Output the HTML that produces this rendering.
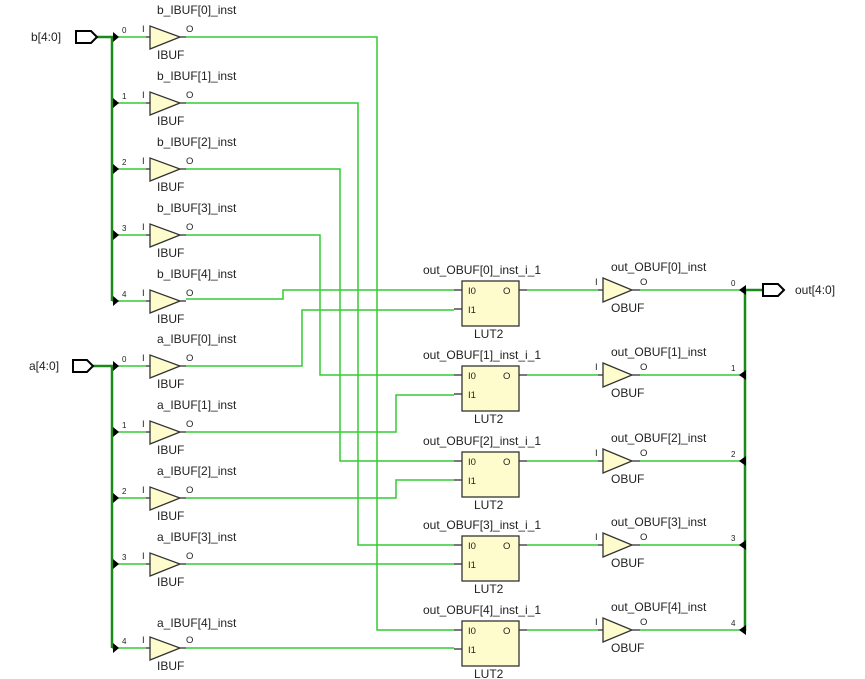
<!DOCTYPE html>
<html><head><meta charset="utf-8"><style>
html,body{margin:0;padding:0;background:#fff;}
svg{display:block;font-family:"Liberation Sans",Arial,sans-serif;}
.w{stroke:#33cc33;stroke-width:1.5;fill:none}
.bus{stroke:#1a8a1a;stroke-width:2.5;fill:none}
.buf{fill:#fefccc;stroke:#333;stroke-width:1.3}
.pin{stroke:#333;stroke-width:1.3}
.t{font-size:12px;fill:#222}
.s{font-size:8px;fill:#222}
.p{font-size:9.5px;fill:#222}
</style></head><body>
<svg width="865" height="679" viewBox="0 0 865 679">
<defs>
<g id="ib"><line class="pin" x1="146" y1="0" x2="150" y2="0"/><polygon class="buf" points="150,-11 150,12 180,0"/><line class="pin" x1="180" y1="0" x2="186" y2="0"/><text class="p" x="142" y="-5">I</text><text class="p" x="186" y="-5">O</text><text class="t" x="157" y="22">IBUF</text><polygon points="113,-5 119,0 113,5" fill="#000"/></g>
<g id="ob"><line class="pin" x1="598" y1="0" x2="603" y2="0"/><polygon class="buf" points="603,-12 603,12 632,0"/><line class="pin" x1="632" y1="0" x2="640" y2="0"/><text class="p" x="595" y="-5">I</text><text class="p" x="640" y="-5">O</text><text class="t" x="611" y="22">OBUF</text><polygon points="746,-5 739,0 746,5" fill="#000"/></g>
<g id="lut"><line class="pin" x1="454" y1="9" x2="462" y2="9"/><line class="pin" x1="454" y1="28" x2="462" y2="28"/><rect class="buf" x="462" y="0" width="57" height="45"/><line class="pin" x1="519" y1="9" x2="527" y2="9"/><text class="p" x="468" y="13">I0</text><text class="p" x="468" y="32">I1</text><text class="p" x="503" y="13">O</text><text class="t" x="474" y="57">LUT2</text></g>
</defs>

<polyline class="w" points="112,37 146,37"/><polyline class="w" points="112,103 146,103"/><polyline class="w" points="112,169 146,169"/><polyline class="w" points="112,235 146,235"/><polyline class="w" points="112,301 146,301"/>
<polyline class="w" points="112,366 146,366"/><polyline class="w" points="112,432 146,432"/><polyline class="w" points="112,498 146,498"/><polyline class="w" points="112,564 146,564"/><polyline class="w" points="112,648 146,648"/>

<polyline class="w" points="186,37 377,37 377,630 454,630"/>
<polyline class="w" points="186,103 358,103 358,545 454,545"/>
<polyline class="w" points="186,169 340,169 340,461 454,461"/>
<polyline class="w" points="186,235 320,235 320,375 454,375"/>
<polyline class="w" points="186,299 283,299 283,290 454,290"/>
<polyline class="w" points="186,366 302,366 302,310 454,310"/>
<polyline class="w" points="186,432 396,432 396,395 454,395"/>
<polyline class="w" points="186,498 396,498 396,480 454,480"/>
<polyline class="w" points="186,564 454,564"/>
<polyline class="w" points="186,648 454,648"/>

<polyline class="w" points="527,290 598,290"/><polyline class="w" points="527,375 598,375"/><polyline class="w" points="527,461 598,461"/><polyline class="w" points="527,545 598,545"/><polyline class="w" points="527,630 598,630"/>
<polyline class="w" points="640,290 745,290"/><polyline class="w" points="640,375 745,375"/><polyline class="w" points="640,461 745,461"/><polyline class="w" points="640,545 745,545"/><polyline class="w" points="640,630 745,630"/>

<polyline class="bus" points="97,37 112,37 112,301"/>
<polyline class="bus" points="93,366 112,366 112,648"/>
<polyline class="bus" points="745,631 745,290 762,290"/>

<polygon points="76,31 91,31 97,37 91,43 76,43" fill="#fff" stroke="#000" stroke-width="2"/>
<text class="t" x="31" y="41">b[4:0]</text>
<polygon points="73,360 87,360 93,366 87,372 73,372" fill="#fff" stroke="#000" stroke-width="2"/>
<text class="t" x="29" y="370">a[4:0]</text>
<polygon points="763,284 778,284 784,290 778,296 763,296" fill="#fff" stroke="#000" stroke-width="2"/>
<text class="t" x="795" y="294">out[4:0]</text>

<use href="#ib" y="37"/><text class="t" x="157" y="14">b_IBUF[0]_inst</text><text class="s" x="122" y="33">0</text>
<use href="#ib" y="103"/><text class="t" x="157" y="80">b_IBUF[1]_inst</text><text class="s" x="122" y="99">1</text>
<use href="#ib" y="169"/><text class="t" x="157" y="146">b_IBUF[2]_inst</text><text class="s" x="122" y="165">2</text>
<use href="#ib" y="235"/><text class="t" x="157" y="212">b_IBUF[3]_inst</text><text class="s" x="122" y="231">3</text>
<use href="#ib" y="301"/><text class="t" x="157" y="278">b_IBUF[4]_inst</text><text class="s" x="122" y="297">4</text>
<use href="#ib" y="366"/><text class="t" x="157" y="343">a_IBUF[0]_inst</text><text class="s" x="122" y="362">0</text>
<use href="#ib" y="432"/><text class="t" x="157" y="409">a_IBUF[1]_inst</text><text class="s" x="122" y="428">1</text>
<use href="#ib" y="498"/><text class="t" x="157" y="475">a_IBUF[2]_inst</text><text class="s" x="122" y="494">2</text>
<use href="#ib" y="564"/><text class="t" x="157" y="541">a_IBUF[3]_inst</text><text class="s" x="122" y="560">3</text>
<use href="#ib" y="648"/><text class="t" x="157" y="627">a_IBUF[4]_inst</text><text class="s" x="122" y="644">4</text>

<use href="#lut" y="281"/><text class="t" x="423" y="274">out_OBUF[0]_inst_i_1</text>
<use href="#lut" y="366"/><text class="t" x="423" y="359">out_OBUF[1]_inst_i_1</text>
<use href="#lut" y="452"/><text class="t" x="423" y="445">out_OBUF[2]_inst_i_1</text>
<use href="#lut" y="536"/><text class="t" x="423" y="529">out_OBUF[3]_inst_i_1</text>
<use href="#lut" y="621"/><text class="t" x="423" y="614">out_OBUF[4]_inst_i_1</text>

<use href="#ob" y="290"/><text class="t" x="611" y="271">out_OBUF[0]_inst</text><text class="s" x="731" y="286">0</text>
<use href="#ob" y="375"/><text class="t" x="611" y="356">out_OBUF[1]_inst</text><text class="s" x="731" y="371">1</text>
<use href="#ob" y="461"/><text class="t" x="611" y="442">out_OBUF[2]_inst</text><text class="s" x="731" y="457">2</text>
<use href="#ob" y="545"/><text class="t" x="611" y="526">out_OBUF[3]_inst</text><text class="s" x="731" y="541">3</text>
<use href="#ob" y="630"/><text class="t" x="611" y="611">out_OBUF[4]_inst</text><text class="s" x="731" y="626">4</text>
</svg>
</body></html>
